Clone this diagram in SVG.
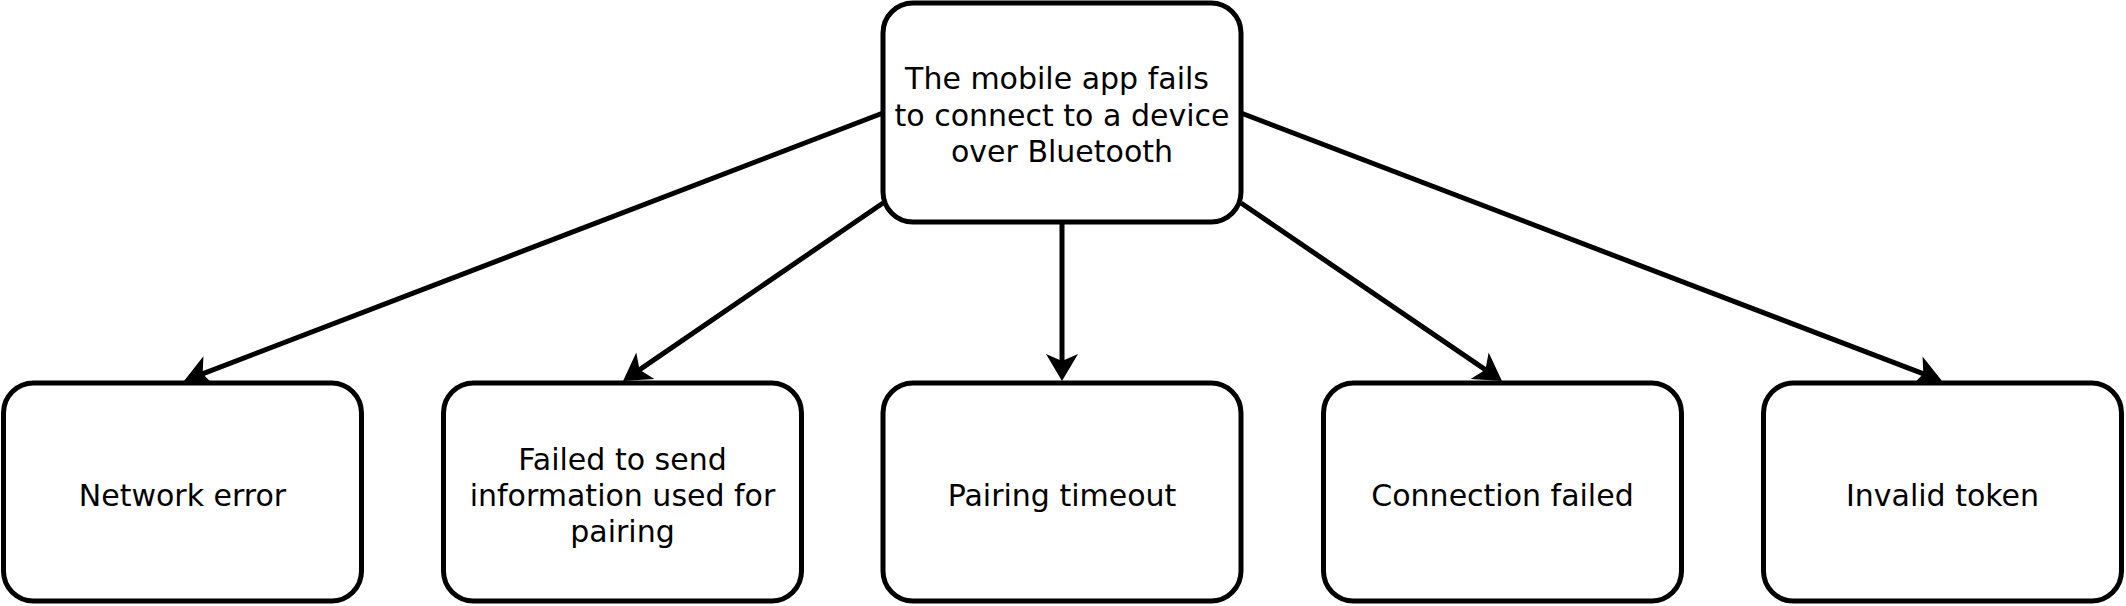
<svg xmlns="http://www.w3.org/2000/svg" width="2126" height="606" viewBox="0 0 2126 606">
<defs>
<style>
.box{fill:#fff;stroke:#000;stroke-width:5}
.lbl{font-family:"DejaVu Sans","Verdana",sans-serif;font-size:30px;fill:#000;text-anchor:middle}
.edge{fill:none;stroke:#000;stroke-width:5}
</style>
<marker id="arr" markerUnits="userSpaceOnUse" markerWidth="28" markerHeight="32" viewBox="0 0 27 32" refX="17" refY="16" orient="auto">
<path d="M27,16 L0,0 L7,16 L0,32 Z" fill="#000"/>
</marker>
</defs>
<rect width="2126" height="606" fill="#fff"/>
<g id="connectors">
<line class="edge" x1="883" y1="113" x2="193.3" y2="377.4" marker-end="url(#arr)"/>
<line class="edge" x1="883" y1="203" x2="631.3" y2="375.4" marker-end="url(#arr)"/>
<line class="edge" x1="1062" y1="222" x2="1062" y2="371" marker-end="url(#arr)"/>
<line class="edge" x1="1241" y1="203" x2="1493.7" y2="375.4" marker-end="url(#arr)"/>
<line class="edge" x1="1241" y1="113" x2="1932.7" y2="377.4" marker-end="url(#arr)"/>
</g>
<g id="root">
<rect class="box" x="883" y="3" width="358" height="219" rx="30"/>
<text class="lbl"><tspan x="1057" y="89">The mobile app fails</tspan><tspan x="1062" y="125.5">to connect to a device</tspan><tspan x="1062" y="161.5">over Bluetooth</tspan></text>
</g>
<g id="network-error">
<rect class="box" x="3.5" y="383" width="358" height="218" rx="30"/>
<text class="lbl" x="182.5" y="506">Network error</text>
</g>
<g id="failed-send">
<rect class="box" x="443.5" y="383" width="358" height="218" rx="30"/>
<text class="lbl"><tspan x="622.5" y="470">Failed to send</tspan><tspan x="622.5" y="506">information used for</tspan><tspan x="622.5" y="542">pairing</tspan></text>
</g>
<g id="pairing-timeout">
<rect class="box" x="883" y="383" width="358" height="218" rx="30"/>
<text class="lbl" x="1062" y="506">Pairing timeout</text>
</g>
<g id="connection-failed">
<rect class="box" x="1323.5" y="383" width="358" height="218" rx="30"/>
<text class="lbl" x="1502.5" y="506">Connection failed</text>
</g>
<g id="invalid-token">
<rect class="box" x="1763.5" y="383" width="358" height="218" rx="30"/>
<text class="lbl" x="1942.5" y="506">Invalid token</text>
</g>
</svg>
